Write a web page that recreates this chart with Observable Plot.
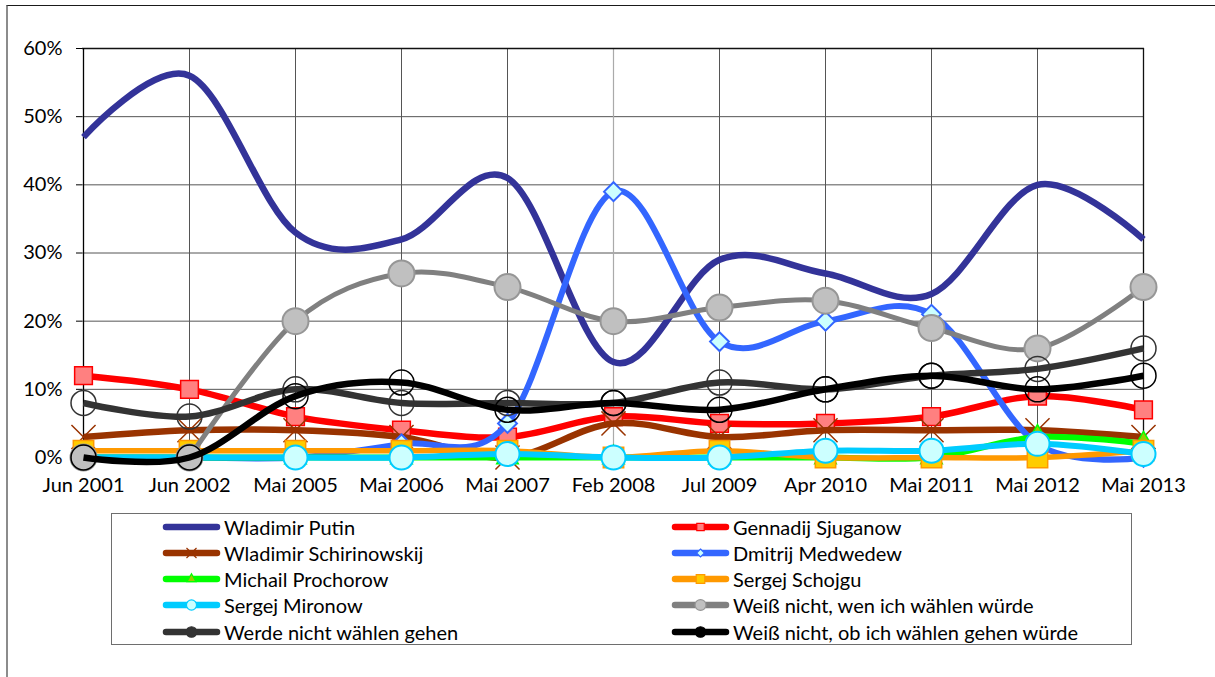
<!DOCTYPE html>
<html><head><meta charset="utf-8">
<script src="https://cdn.jsdelivr.net/npm/d3@7"></script>
<script src="https://cdn.jsdelivr.net/npm/@observablehq/plot@0.6"></script>
<style>
html,body{margin:0;padding:0;background:#fff}
#page{position:relative;width:1215px;height:677px;overflow:hidden;font-family:Lato,sans-serif}
#frame{position:absolute;left:6px;top:5px;width:1300px;height:700px;border-left:2px solid #8c8c8c;border-top:1.5px solid #1a1a1a}
#chart{position:absolute;left:0;top:0}
#legendbox{position:absolute;left:111px;top:513px;width:1021px;height:132px;border:1px solid #6e6e6e;box-sizing:border-box}
.item{position:absolute;height:26px;display:flex;align-items:center;font-size:20px;color:#000;white-space:nowrap}
.item svg{flex:none}
</style></head><body>
<div id="page"><div id="frame"></div><div id="chart"></div><div id="legendbox"></div></div>
<script>
// Survey dates (categories)
const dates = ["Jun 2001","Jun 2002","Mai 2005","Mai 2006","Mai 2007","Feb 2008","Jul 2009","Apr 2010","Mai 2011","Mai 2012","Mai 2013"];
// Y tick values (%)
const yTicks = [0,10,20,30,40,50,60];
// Series values (%)
const putin         = [47,56,33,32,41,14,29,27,24,40,32];
const sjuganow      = [12,10,6,4,3,6,5,5,6,9,7];
const schirinowskij = [3,4,4,3,0,5,3,4,4,4,3];
const medwedew      = [0,0,0,2,5,39,17,20,21,2,0];
const prochorow     = [0,0,0,0,0,0,0,0,0,3,2];
const schojgu       = [1,1,1,1,1,0,1,0,0,0,1];
const mironow       = [0,0,0,0,0.5,0,0,1,1,2,0.5];
const wenNicht      = [0,0,20,27,25,20,22,23,19,16,25];
const nichtGehen    = [8,6,10,8,8,8,11,10,12,13,16];
const obNicht       = [0,0,9,11,7,8,7,10,12,10,12];

const series = [
  {name:"Wladimir Putin", values:putin, color:"#333399", width:6.5, symbol:null},
  {name:"Gennadij Sjuganow", values:sjuganow, color:"#FF0000", width:6.5, symbol:"square", r:10, fill:"#FF8080", stroke:"#FF0000", sw:1.5},
  {name:"Wladimir Schirinowskij", values:schirinowskij, color:"#993300", width:6.5, symbol:"times", r:11, fill:"none", stroke:"#993300", sw:1.5},
  {name:"Dmitrij Medwedew", values:medwedew, color:"#3366FF", width:6, symbol:"diamond2", r:8.5, fill:"#CCFFFF", stroke:"#3366FF", sw:2},
  {name:"Michail Prochorow", values:prochorow, color:"#00FF00", width:6, symbol:"triangle", r:8, fill:"#99CC00", stroke:"#00FF00", sw:1.5},
  {name:"Sergej Schojgu", values:schojgu, color:"#FF9900", width:5.5, symbol:"square", r:11.5, fill:"#FFCC00", stroke:"#FF9900", sw:1.5},
  {name:"Sergej Mironow", values:mironow, color:"#00CCFF", width:6, symbol:"circle", r:12, fill:"#CCFFFF", stroke:"#00CCFF", sw:2},
  {name:"Weiß nicht, wen ich wählen würde", values:wenNicht, color:"#808080", width:5, symbol:"circle", r:13, fill:"#C0C0C0", stroke:"#969696", sw:2, lineFrom:1},
  {name:"Werde nicht wählen gehen", values:nichtGehen, color:"#333333", width:6.5, symbol:"circle", r:12.5, fill:"none", stroke:"#333333", sw:1.5},
  {name:"Weiß nicht, ob ich wählen gehen würde", values:obNicht, color:"#000000", width:6.5, symbol:"circle", r:12.5, fill:"none", stroke:"#000000", sw:1.5}
];

const seriesMarks = [];
for (const s of series) {
  const rows = dates.map((d, i) => ({date: d, value: s.values[i], i}));
  const lineRows = rows.filter(r => r.i >= (s.lineFrom || 0));
  seriesMarks.push(Plot.line(lineRows, {x:"date", y:"value", stroke:s.color, strokeWidth:s.width, curve:"cardinal", strokeLinecap:"butt", strokeLinejoin:"round"}));
  if (s.symbol) {
    seriesMarks.push(Plot.dot(rows, {x:"date", y:"value", symbol:s.symbol, r:s.r, fill:s.fill, stroke:s.stroke, strokeWidth:s.sw}));
  }
}

const chart = Plot.plot({
  width: 1215, height: 500,
  marginLeft: 82, marginRight: 71, marginTop: 48, marginBottom: 43,
  x: {type:"point", domain:dates, padding:0},
  y: {domain:[0,60]},
  style: {fontFamily:"Lato, sans-serif", fontSize:"20px", color:"#000", background:"transparent", overflow:"visible"},
  marks: [
    Plot.ruleY([10,20,30,40,50], {stroke:"#555", strokeWidth:1}),
    Plot.ruleX(dates.filter(d => d !== "Feb 2008"), {stroke:"#555", strokeWidth:1}),
    Plot.ruleX(["Feb 2008"], {stroke:"#aaa", strokeWidth:1.2}),
    Plot.ruleY([60], {stroke:"#111", strokeWidth:1.3}),
    Plot.ruleX([dates[dates.length-1]], {stroke:"#111", strokeWidth:1.3}),
    Plot.ruleX([dates[0]], {stroke:"#000", strokeWidth:1.3}),
    Plot.ruleY([0], {stroke:"#000", strokeWidth:1.3}),
    Plot.axisY({ticks:yTicks, tickFormat:d => d + "%", tickSize:6, tickPadding:14, fontSize:20, label:null, stroke:"#000"}),
    Plot.axisX({tickSize:0, tickPadding:20, fontSize:20, label:null}),
    ...seriesMarks
  ]
});
document.getElementById("chart").appendChild(chart);

// Legend
const page = document.getElementById("page");
const rowY = [526.7, 552.7, 579, 605, 631.5];
const colX = [160, 669];
series.forEach((s, i) => {
  const row = Math.floor(i / 2), col = i % 2;
  const div = document.createElement("div");
  div.className = "item";
  div.style.left = colX[col] + "px";
  div.style.top = (rowY[row] - 13) + "px";
  const svg = d3.create("svg").attr("width", 64).attr("height", 26);
  svg.append("line").attr("x1", 6).attr("x2", 57).attr("y1", 13).attr("y2", 13)
    .attr("stroke", s.color).attr("stroke-width", 6.5).attr("stroke-linecap", "round");
  if (s.symbol) {
    const symMap = {square:d3.symbolSquare, times:d3.symbolTimes, diamond2:d3.symbolDiamond2, triangle:d3.symbolTriangle, circle:d3.symbolCircle};
    const rr = s.r * 0.42;
    svg.append("path").attr("transform", "translate(31.5,13)")
      .attr("d", d3.symbol(symMap[s.symbol], Math.PI * rr * rr)())
      .attr("fill", s.fill === "none" ? s.stroke : s.fill).attr("stroke", s.stroke).attr("stroke-width", 1.2);
  }
  div.appendChild(svg.node());
  const span = document.createElement("span");
  span.textContent = s.name;
  span.style.marginLeft = "0px";
  div.appendChild(span);
  page.appendChild(div);
});
</script>
</body></html>
